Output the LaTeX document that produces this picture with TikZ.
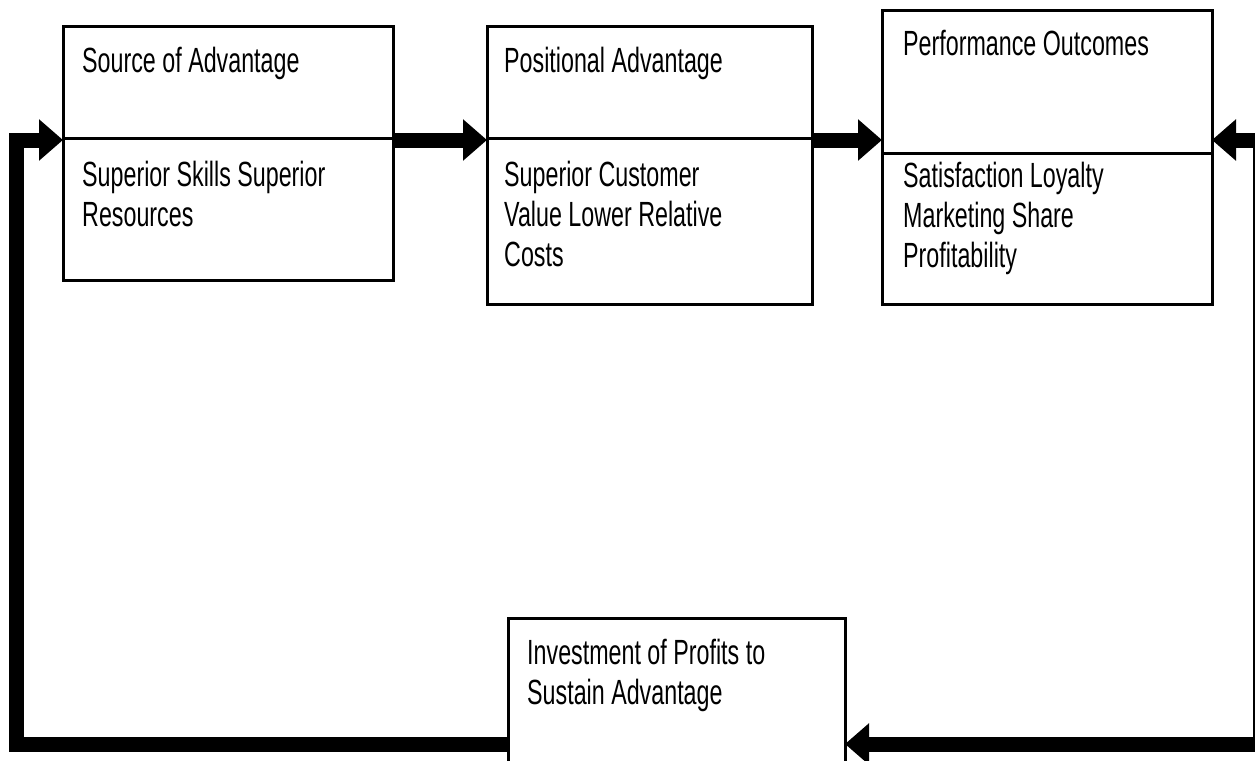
\documentclass[tikz,border=0pt]{standalone}
\usepackage{fontspec}
\newfontfamily\arialn{Liberation Sans}[FakeStretch=0.665]
\usetikzlibrary{arrows.meta}
\begin{document}
\begin{tikzpicture}[x=1pt,y=-1pt,
  >={Triangle[length=24pt,width=40pt]},
  box/.style={draw, line width=3pt, anchor=north west, inner sep=0pt, outer sep=0pt},
  boxline/.style={line width=3pt},
  lbl/.style={anchor=base west, inner sep=0pt, font=\arialn\fontsize{35}{40}\selectfont},
  conn/.style={line width=15pt, line join=miter, line cap=butt}]
\useasboundingbox (0,0) rectangle (1255,760);
\clip (0,0) rectangle (1255,760);
\fill[white] (0,0) rectangle (1255,760);
% boxes
\node[box, minimum width=330pt, minimum height=253pt] (b1) at (63,27) {};
\node[box, minimum width=325pt, minimum height=277pt] (b2) at (487,27) {};
\node[box, minimum width=330pt, minimum height=293pt] (b3) at (882,11) {};
\node[box, minimum width=337pt, minimum height=170pt] (b4) at (508,618) {};
% dividers
\coordinate (d1) at (0,138);
\coordinate (d3) at (0,153);
\draw[boxline] (b1.west |- d1) -- (b1.east |- d1);
\draw[boxline] (b2.west |- d1) -- (b2.east |- d1);
\draw[boxline] (b3.west |- d3) -- (b3.east |- d3);
% texts
\node[lbl] (t1) at (82,72) {Source of Advantage};
\node[lbl] (t1b) at (82,186) {\begin{tabular}[t]{@{}l@{}}Superior Skills Superior\\Resources\end{tabular}};
\node[lbl] (t2) at (504,72) {Positional Advantage};
\node[lbl] (t2b) at (504,186) {\begin{tabular}[t]{@{}l@{}}Superior Customer\\Value Lower Relative\\Costs\end{tabular}};
\node[lbl] (t3) at (903,56) {Performance Outcomes};
\node[lbl] (t3b) at (903,187) {\begin{tabular}[t]{@{}l@{}}Satisfaction Loyalty\\Marketing Share\\Profitability\end{tabular}};
\node[lbl] (t4) at (527,664) {\begin{tabular}[t]{@{}l@{}}Investment of Profits to\\Sustain Advantage\end{tabular}};
% connectors
\coordinate (ya) at (0,140);
\coordinate (yb) at (0,744);
\coordinate (rt) at (1260,140);
\coordinate (rb) at (1260,744);
\coordinate (lt) at (16,140);
\coordinate (lb) at (16,744);
\draw[conn, ->] (b1.east |- ya) -- (b2.west |- ya);
\draw[conn, ->] (b2.east |- ya) -- (b3.west |- ya);
\draw[conn, <->] (b3.east |- ya) -- (rt) -- (rb) -- (b4.east |- yb);
\draw[conn, ->] (b4.west |- yb) -- (lb) -- (lt) -- (b1.west |- ya);
\end{tikzpicture}
\end{document}
